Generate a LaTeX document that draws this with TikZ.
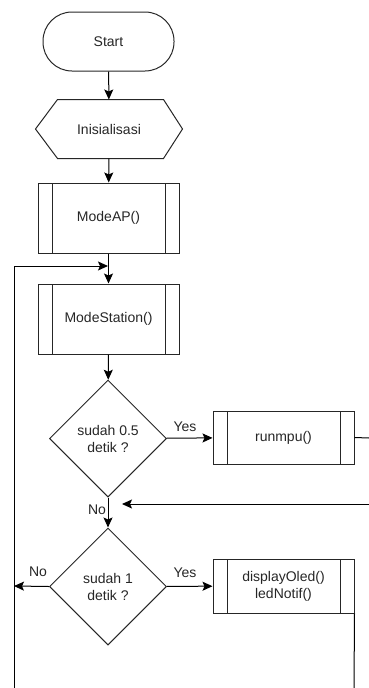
\documentclass[tikz,border=0pt]{standalone}
\usepackage{fontspec}
\setmainfont{Liberation Sans}
\usetikzlibrary{shapes.geometric,arrows.meta}

\tikzset{
  base/.style={draw=black!85, line width=1pt, text=black!85,
    font=\fontsize{14}{17}\selectfont, align=center, inner sep=0pt},
  terminal/.style={base, rectangle, rounded corners=29pt,
    minimum width=131pt, minimum height=59pt},
  prepbox/.style={base, draw=none, rectangle,
    minimum width=146pt, minimum height=58pt},
  subproc/.style={base, rectangle, minimum width=141pt,
    path picture={
      \draw[black!85, line width=1pt]
        ([xshift=14pt]path picture bounding box.north west) --
        ([xshift=14pt]path picture bounding box.south west)
        ([xshift=-14pt]path picture bounding box.north east) --
        ([xshift=-14pt]path picture bounding box.south east);}},
  decision/.style={base, diamond, minimum width=117pt, minimum height=117pt},
  flow/.style={draw=black, line width=1pt},
  arrowflow/.style={flow, -{Stealth[length=10pt,width=9pt,inset=2pt]}},
  lbl/.style={text=black!85, font=\fontsize{14}{17}\selectfont, inner sep=0pt}
}

\begin{document}
\begin{tikzpicture}[x=1pt, y=-1pt]
  \useasboundingbox (0,0) rectangle (369,688);

  % main column
  \node[terminal] (start) at (108.5,41.5) {Start};
  \node[prepbox] (init) at (109,129) {Inisialisasi};
  \draw[black!85, line width=1pt]
    (init.west) -- ([xshift=22pt]init.north west) -- ([xshift=-19pt]init.north east)
    -- (init.east) -- ([xshift=-19pt]init.south east) -- ([xshift=22pt]init.south west)
    -- cycle;
  \node[subproc, minimum height=70pt] (modeap) at (108.5,218) {ModeAP()};
  \node[subproc, minimum height=70pt] (modest) at (108.5,319) {ModeStation()};
  \node[decision] (dec1) at (108,438.5) {sudah 0.5\\detik ?};
  \node[decision] (dec2) at (108,586.5) {sudah 1\\detik ?};

  % side actions
  \node[subproc, minimum height=53pt] (runmpu) at (283.5,437.5) {runmpu()};
  \node[subproc, minimum height=54pt] (disp) at (283.5,586) {displayOled()\\ledNotif()};

  % loop and junction points
  \coordinate (loopin) at (108,266);
  \coordinate (loopbot) at (14,688);
  \coordinate (loopcorner) at (14,266);
  \coordinate (noleft) at (14,586);
  \coordinate (rexit) at (369,438);
  \coordinate (rback) at (369,504);
  \coordinate (rbacktip) at (122,504);
  \coordinate (dispdown) at (354,688);

  % connectors
  \draw[arrowflow] (start) -- (init);
  \draw[arrowflow] (init) -- (modeap);
  \draw[arrowflow] (modeap) -- (modest);
  \draw[arrowflow] (modest) -- (dec1);
  \draw[arrowflow] (dec1) -- (dec2);
  \draw[arrowflow] (dec1) -- (runmpu);
  \draw[arrowflow] (dec2) -- (disp);
  \draw[arrowflow] (dec2.west) -- (noleft);
  \draw[arrowflow] (loopbot) -- (loopcorner) -- (loopin);
  \draw[flow] (runmpu.east) -- (rexit);
  \draw[arrowflow] (rback) -- (rbacktip);
  \draw[flow] (disp.south east) -- (dispdown);

  % branch labels
  \node[lbl] at (185,427) {Yes};
  \node[lbl] at (185,573) {Yes};
  \node[lbl] at (97,510) {No};
  \node[lbl] at (38,572) {No};
\end{tikzpicture}
\end{document}
